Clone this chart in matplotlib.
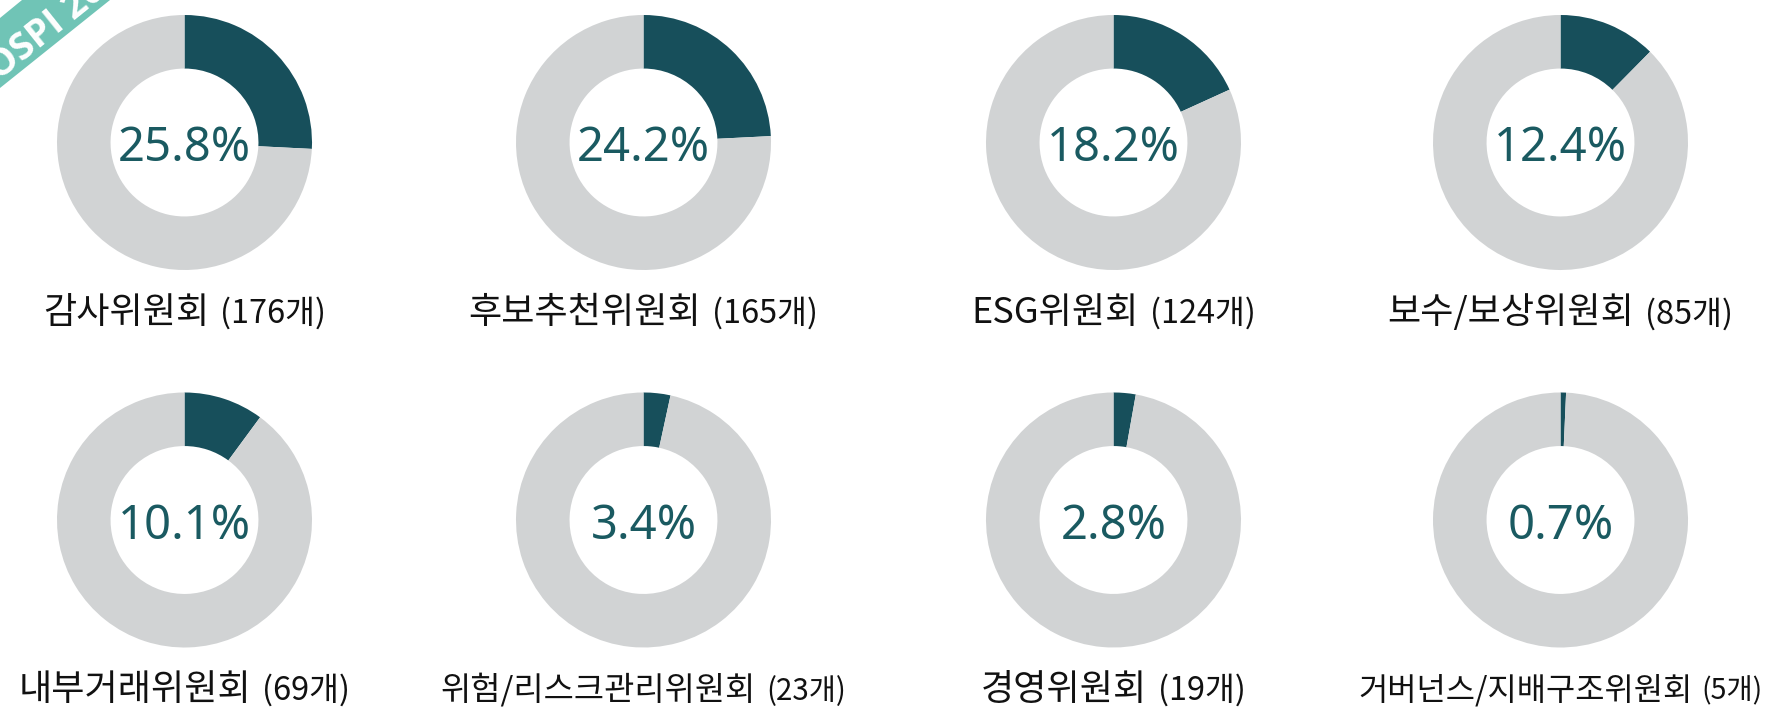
import matplotlib
matplotlib.use("Agg")
import matplotlib.pyplot as plt
from matplotlib.offsetbox import TextArea, HPacker, AnnotationBbox
from matplotlib.patches import Polygon

# data
names = ["감사위원회", "후보추천위원회", "ESG위원회", "보수/보상위원회",
         "내부거래위원회", "위험/리스크관리위원회", "경영위원회", "거버넌스/지배구조위원회"]
counts = [176, 165, 124, 85, 69, 23, 19, 5]
shares = [25.8, 24.2, 18.2, 12.4, 10.1, 3.4, 2.8, 0.7]

W, H = 1781, 713
DARK = "#174f5b"
GREY = "#d1d3d4"
PCT_COLOR = "#1a5a61"
BADGE = "#70c4b6"

col_x = [184.5, 643.5, 1113.5, 1560.5]
row_y = [142.5, 520.0]
label_y = [313, 690]
R = 127.5
MAX_LABEL_W = 405

plt.rcParams['font.family'] = ['Noto Sans CJK KR', 'DejaVu Sans']

fig = plt.figure(figsize=(W / 100, H / 100), dpi=100)
fig.patch.set_facecolor("white")


def px_axes(cx, cy, r):
    # cx, cy in pixels from top-left
    return fig.add_axes([(cx - r) / W, (H - cy - r) / H, 2 * r / W, 2 * r / H])


def make_label(name, count, size):
    t1 = TextArea(name, textprops=dict(fontsize=size, color="#111111",
                                       family=['Noto Sans CJK KR', 'DejaVu Sans']))
    t2 = TextArea("(%d개)" % count, textprops=dict(fontsize=size * 0.9, color="#111111",
                                                  family=['Noto Sans CJK KR', 'DejaVu Sans']))
    box = HPacker(children=[t1, t2], align="baseline", pad=0, sep=size * 0.3)
    box.set_figure(fig)
    return box


renderer = fig.canvas.get_renderer()

for i, (name, cnt, pct) in enumerate(zip(names, counts, shares)):
    row, col = divmod(i, 4)
    cx, cy = col_x[col], row_y[row]
    ax = px_axes(cx, cy, R)
    ax.pie([pct, 100 - pct], colors=[DARK, GREY], startangle=90, counterclock=False,
           radius=1.0, wedgeprops=dict(width=0.42, linewidth=0))
    ax.set_xlim(-1, 1)
    ax.set_ylim(-1, 1)
    ax.set_aspect("equal")
    ax.axis("off")
    ax.text(0, -0.05, "%.1f%%" % pct, ha="center", va="center", fontsize=34,
            color=PCT_COLOR, family=['Noto Sans', 'DejaVu Sans'])

    # label under the donut, shrunk if too wide
    size = 26
    box = make_label(name, cnt, size)
    w = box.get_bbox(renderer).width
    if w > MAX_LABEL_W:
        size = size * MAX_LABEL_W / w
        box = make_label(name, cnt, size)
    ab = AnnotationBbox(box, (cx / W, 1 - label_y[row] / H), xycoords="figure fraction",
                        box_alignment=(0.5, 0.5), frameon=False, pad=0)
    fig.add_artist(ab)

# corner ribbon (cut off by the image edge, as in the source)
ribbon = [(0, 88), (110, 0), (22, 0), (0, 18)]
fig.add_artist(Polygon([(x / W, 1 - y / H) for x, y in ribbon], closed=True,
                       transform=fig.transFigure, facecolor=BADGE, edgecolor="none"))
fig.text(46 / W, 1 - 30 / H, "KOSPI 200", rotation=38.7, ha="center", va="center",
         rotation_mode="anchor", fontsize=27, fontweight="bold", color="white",
         family=['Open Sans', 'Roboto', 'DejaVu Sans'])

fig.savefig("out.png", dpi=100, facecolor="white")
